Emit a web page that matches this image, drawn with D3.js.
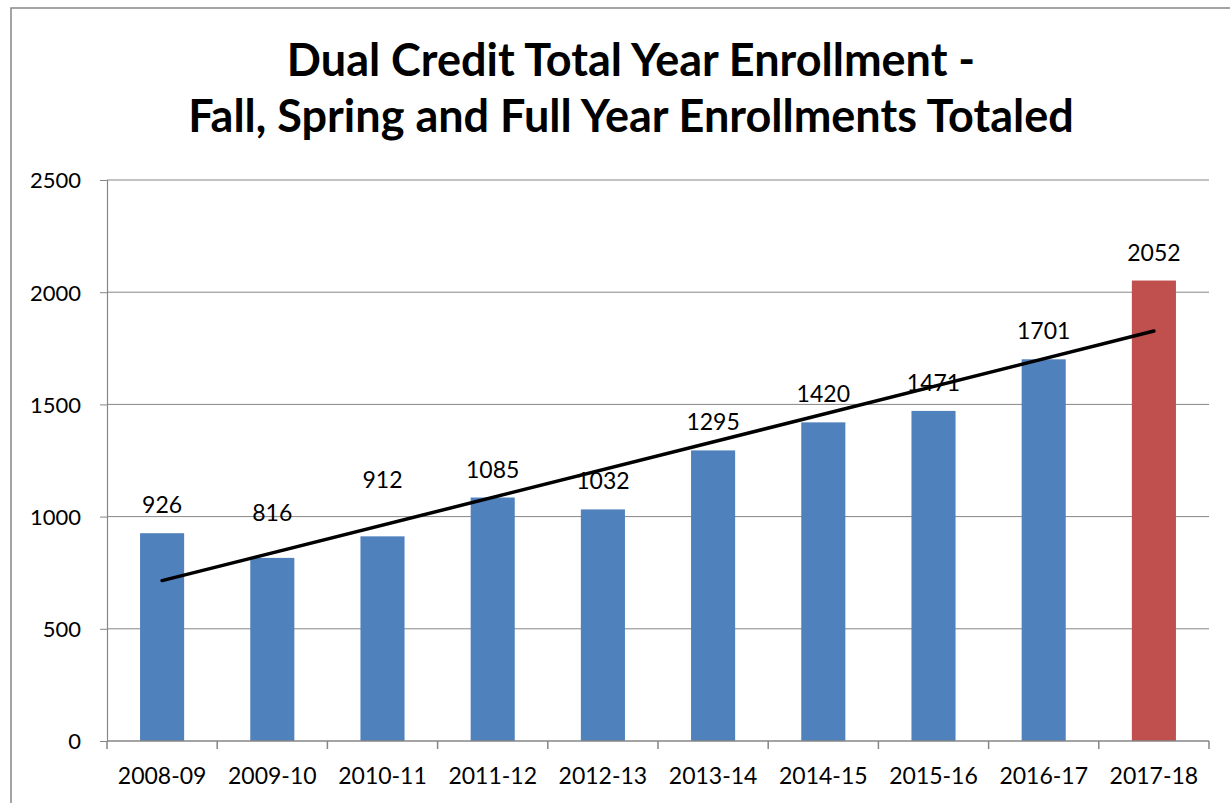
<!DOCTYPE html>
<html>
<head>
<meta charset="utf-8">
<script src="https://cdn.jsdelivr.net/npm/d3@7"></script>
<style>
  body { margin: 0; background: #fff; }
  text { font-family: Lato, "Open Sans", sans-serif; fill: #000; }
</style>
</head>
<body>
<div id="main"></div>
<script>
/* Data */
const years = ["2008-09","2009-10","2010-11","2011-12","2012-13","2013-14","2014-15","2015-16","2016-17","2017-18"];
const enrollment = [926, 816, 912, 1085, 1032, 1295, 1420, 1471, 1701, 2052];
const yTicks = [0, 500, 1000, 1500, 2000, 2500];
const titleLines = ["Dual Credit Total Year Enrollment -", "Fall, Spring and Full Year Enrollments Totaled"];

/* Size */
const width = 1230, height = 803;
const plot = {left: 107, right: 1209, top: 180, bottom: 741};

const svg = d3.select("#main").append("svg").attr("width", width).attr("height", height);

// outer chart border (runs off the right and bottom edge)
svg.append("rect")
  .attr("x", 11).attr("y", 8)
  .attr("width", 1240).attr("height", 820)
  .attr("fill", "none").attr("stroke", "#868686").attr("stroke-width", 1.5);

/* Title */
svg.append("g").selectAll("text")
  .data(titleLines)
  .enter().append("text")
  .attr("x", 631)
  .attr("y", (d, i) => 76 + i * 56)
  .attr("text-anchor", "middle")
  .style("font-weight", "bold")
  .style("font-size", "45px")
  .text(d => d);

/* Scales */
const x = d3.scaleBand().domain(years).range([plot.left, plot.right]).padding(0);
const y = d3.scaleLinear().domain([0, 2500]).range([plot.bottom, plot.top]);
const barW = x.bandwidth() * 0.4;

/* Gridlines */
svg.append("g").selectAll("line")
  .data(yTicks.filter(d => d > 0))
  .enter().append("line")
  .attr("x1", plot.left).attr("x2", plot.right)
  .attr("y1", d => y(d)).attr("y2", d => y(d))
  .attr("stroke", "#868686").attr("stroke-width", 1);

/* Y axis */
const yAxis = svg.append("g")
  .attr("transform", `translate(${plot.left},0)`)
  .call(d3.axisLeft(y).tickValues(yTicks).tickSize(7).tickPadding(19).tickFormat(d3.format("d")));
yAxis.select(".domain").attr("stroke", "#868686").attr("stroke-width", 1.2);
yAxis.selectAll(".tick line").attr("stroke", "#868686");
yAxis.selectAll(".tick text").style("font-size", "22px").attr("dy", "0.36em");

/* Bars */
svg.append("g").selectAll("rect")
  .data(years)
  .enter().append("rect")
  .attr("x", d => x(d) + (x.bandwidth() - barW) / 2)
  .attr("width", barW)
  .attr("y", (d, i) => y(enrollment[i]))
  .attr("height", (d, i) => y(0) - y(enrollment[i]))
  .attr("fill", (d, i) => i === years.length - 1 ? "#C0504D" : "#4F81BD");

/* X axis */
const xAxisG = svg.append("g").attr("transform", `translate(0,${plot.bottom})`);
xAxisG.append("line")
  .attr("x1", plot.left).attr("x2", plot.right)
  .attr("stroke", "#868686").attr("stroke-width", 1.5);
xAxisG.selectAll(".cat-tick")
  .data(years.map(d => x(d)).concat([plot.right]))
  .enter().append("line")
  .attr("x1", d => d).attr("x2", d => d)
  .attr("y1", 0).attr("y2", 8)
  .attr("stroke", "#868686").attr("stroke-width", 1.5);
xAxisG.selectAll("text")
  .data(years)
  .enter().append("text")
  .attr("x", d => x(d) + x.bandwidth() / 2)
  .attr("y", 43)
  .attr("text-anchor", "middle")
  .style("font-size", "23px")
  .text(d => d);

/* Linear trendline (least squares over all years) */
const idx = enrollment.map((v, i) => i + 1);
const mx = d3.mean(idx), my = d3.mean(enrollment);
const slope = d3.sum(idx, (k, i) => (k - mx) * (enrollment[i] - my)) / d3.sum(idx, k => (k - mx) * (k - mx));
const icpt = my - slope * mx;
const trend = [0, years.length - 1];
svg.append("line")
  .attr("x1", x(years[trend[0]]) + x.bandwidth() / 2)
  .attr("y1", y(icpt + slope * (trend[0] + 1)))
  .attr("x2", x(years[trend[1]]) + x.bandwidth() / 2)
  .attr("y2", y(icpt + slope * (trend[1] + 1)))
  .attr("stroke", "#000").attr("stroke-width", 3.5).attr("stroke-linecap", "round");

/* Data labels (two were nudged up in the original) */
const labelLift = {1: 17, 2: 28};
svg.append("g").selectAll("text")
  .data(years)
  .enter().append("text")
  .attr("x", d => x(d) + x.bandwidth() / 2)
  .attr("y", (d, i) => y(enrollment[i]) - 20 - (labelLift[i] || 0))
  .attr("text-anchor", "middle")
  .style("font-size", "23px")
  .text((d, i) => enrollment[i]);
</script>
</body>
</html>
